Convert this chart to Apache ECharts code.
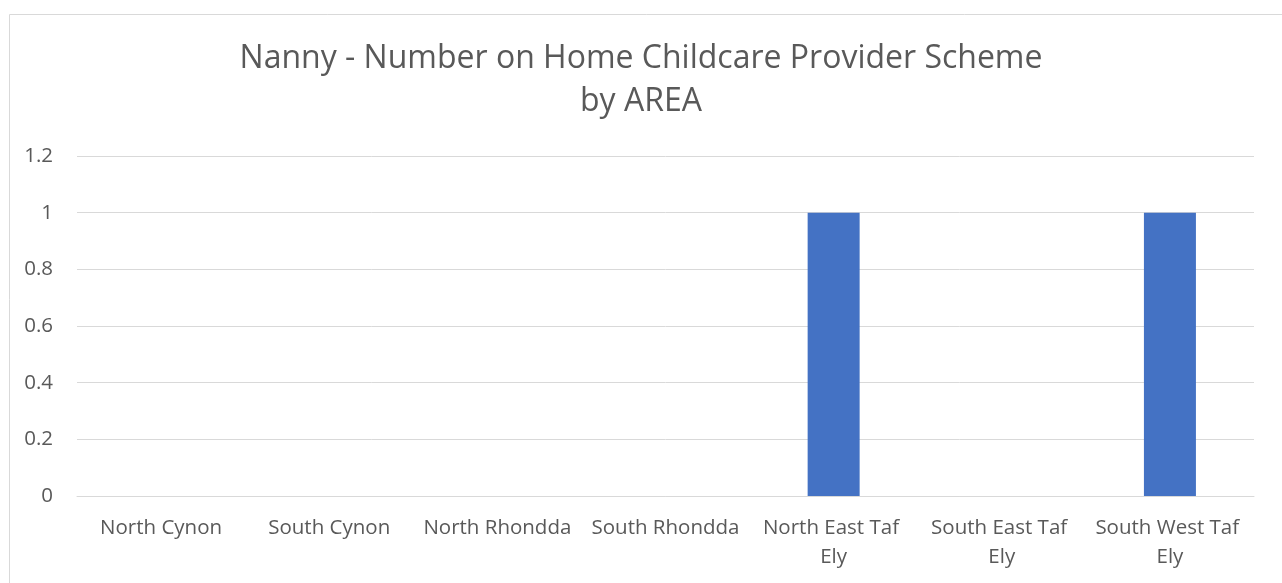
<!DOCTYPE html>
<html>
<head>
<meta charset="utf-8">
<script src="https://cdn.jsdelivr.net/npm/echarts@6/dist/echarts.min.js"></script>
<style>
  html, body { margin: 0; padding: 0; background: #fff; }
  #chart { width: 1282px; height: 583px; }
</style>
</head>
<body>
<div id="chart"></div>
<script>
const areas = ['North Cynon', 'South Cynon', 'North Rhondda', 'South Rhondda', 'North East Taf Ely', 'South East Taf Ely', 'South West Taf Ely']
const nannyCounts = [0, 0, 0, 0, 1, 0, 1]
const yTicks = [0, 0.2, 0.4, 0.6, 0.8, 1, 1.2]

var myChart = echarts.init(document.getElementById('chart'))
let option = {
  animation: false,
  textStyle: { fontFamily: 'Open Sans' },
  graphic: [
    {
      type: 'rect',
      left: 7,
      top: 12,
      shape: { width: 1300, height: 600 },
      style: { fill: 'none', stroke: '#d9d9d9', lineWidth: 1 },
      silent: true,
    },
  ],
  title: {
    text: 'Nanny - Number on Home Childcare Provider Scheme\nby AREA',
    left: 'center',
    top: 32,
    textStyle: {
      color: '#595959',
      fontWeight: 400,
      fontSize: 32,
      lineHeight: 43,
      fontFamily: 'Open Sans',
    },
  },
  grid: {
    left: 77,
    right: 28,
    top: 156,
    bottom: 87,
  },
  xAxis: {
    type: 'category',
    data: areas,
    axisLine: { show: true, lineStyle: { color: '#d9d9d9', width: 1 } },
    axisTick: { show: false },
    axisLabel: {
      interval: 0,
      color: '#595959',
      fontSize: 20.5,
      lineHeight: 29,
      margin: 18,
      width: 160,
      overflow: 'break',
    },
  },
  yAxis: {
    type: 'value',
    min: yTicks[0],
    max: yTicks[yTicks.length - 1],
    interval: 0.2,
    axisLine: { show: false },
    axisTick: { show: false },
    splitLine: { lineStyle: { color: '#d9d9d9', width: 1 } },
    axisLabel: {
      color: '#595959',
      fontSize: 20.5,
      margin: 24,
      formatter: function (v) {
        return String(Math.round(v * 10) / 10)
      },
    },
  },
  series: [
    {
      name: 'Nanny',
      type: 'bar',
      data: nannyCounts,
      barWidth: 52,
      itemStyle: { color: '#4472c4' },
    },
  ],
}
myChart.setOption(option)
</script>
</body>
</html>
